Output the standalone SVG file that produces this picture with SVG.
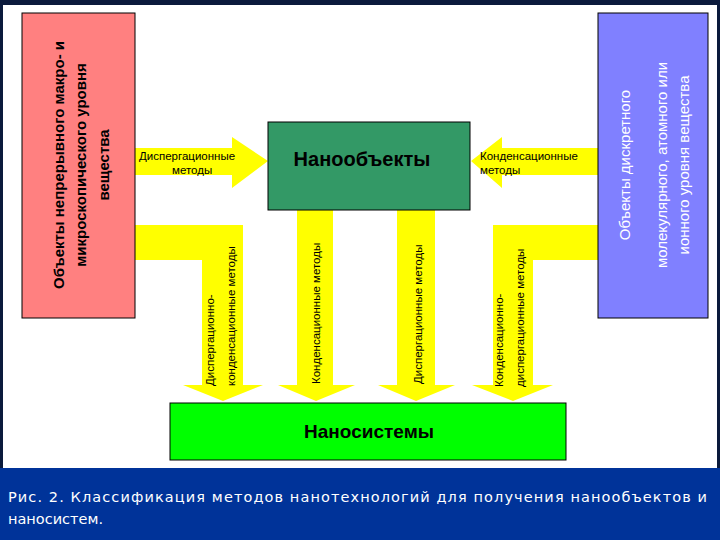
<svg xmlns="http://www.w3.org/2000/svg" width="720" height="540" viewBox="0 0 720 540">
<style>
.a{fill:#ffff00}
.v{font-family:"Liberation Sans",Arial,sans-serif;font-size:11.5px;fill:#000}
.box{stroke:#000;stroke-width:1}
</style>
<rect width="720" height="540" fill="#0b1a3c"/>
<rect x="3" y="5" width="714" height="463" fill="#fff"/>
<rect x="0" y="468" width="720" height="72" fill="#003399"/>
<g id="connectors">
<polygon class="a" points="135,148 232,148 232,137 268,161 232,188 232,175 135,175"/>
<polygon class="a" points="598,148 502,148 502,137 471,161 502,188 502,175 598,175"/>
<polygon class="a" points="135,225 243,225 243,385 263,385 223,401 183,385 202,385 202,260 135,260"/>
<polygon class="a" points="598,225 493,225 493,385 472,385 513,401 553,385 533,385 533,260 598,260"/>
<polygon class="a" points="297,210 333,210 333,385 355,385 316,401 278,385 297,385"/>
<polygon class="a" points="397,210 435,210 435,385 455,385 416,401 378,385 397,385"/>
<text class="v" x="139" y="160">Диспергационные</text>
<text class="v" x="172" y="174">методы</text>
<text class="v" x="480" y="160">Конденсационные</text>
<text class="v" x="480" y="174">методы</text>
<g class="v">
<text transform="translate(214,386) rotate(-90)">Диспергационно-</text>
<text transform="translate(235,386) rotate(-90)">конденсационные методы</text>
<text transform="translate(320,384) rotate(-90)">Конденсационные методы</text>
<text transform="translate(422,384) rotate(-90)">Диспергационные методы</text>
<text transform="translate(503,387) rotate(-90)">Конденсационно-</text>
<text transform="translate(524,387) rotate(-90)">диспергационные методы</text>
</g>
</g>
<g id="macro">
<rect class="box" x="22" y="13" width="113" height="305" fill="#ff8080"/>
<g font-family="Liberation Sans,Arial,sans-serif" font-size="15" font-weight="bold" text-anchor="middle">
<text transform="translate(64,165) rotate(-90)">Объекты непрерывного макро- и</text>
<text transform="translate(86,165) rotate(-90)">микроскопического уровня</text>
<text transform="translate(109,165) rotate(-90)">вещества</text>
</g>
</g>
<g id="discrete">
<rect class="box" x="598" y="13" width="110" height="305" fill="#8080ff"/>
<g font-family="Liberation Sans,Arial,sans-serif" font-size="15" fill="#fff" text-anchor="middle">
<text transform="translate(630,165) rotate(-90)">Объекты дискретного</text>
<text transform="translate(667,165) rotate(-90)">молекулярного, атомного или</text>
<text transform="translate(689,165) rotate(-90)">ионного уровня вещества</text>
</g>
</g>
<g id="nanoobjects">
<rect class="box" x="268" y="122" width="202" height="88" fill="#339966"/>
<text x="362" y="166" text-anchor="middle" font-family="Liberation Sans,Arial,sans-serif" font-size="20" font-weight="bold">Нанообъекты</text>
</g>
<g id="nanosystems">
<rect class="box" x="170" y="403" width="396" height="57" fill="#00ff00"/>
<text x="369" y="438" text-anchor="middle" font-family="Liberation Sans,Arial,sans-serif" font-size="19" font-weight="bold">Наносистемы</text>
</g>
<g font-family="DejaVu Sans,sans-serif" font-size="14.5" fill="#fff">
<text x="8" y="502" textLength="699" lengthAdjust="spacing">Рис. 2. Классификация методов нанотехнологий для получения нанообъектов и</text>
<text x="8" y="524">наносистем.</text>
</g>
</svg>
